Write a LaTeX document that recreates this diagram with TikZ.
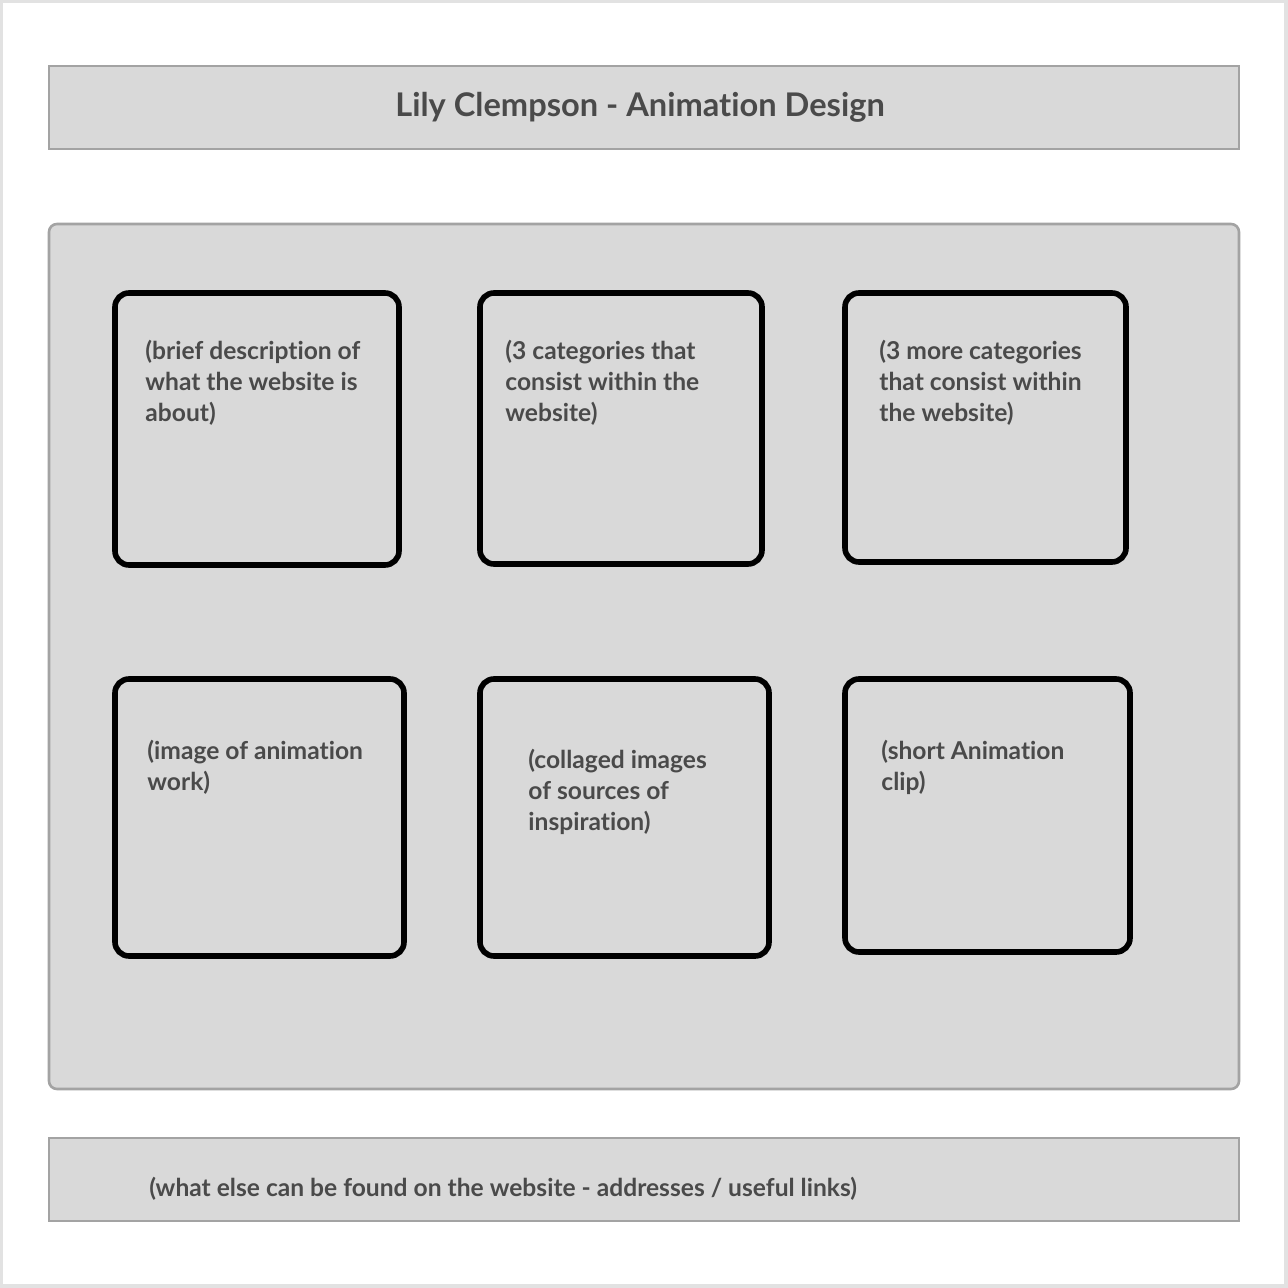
\documentclass[tikz,border=0pt]{standalone}
\usepackage{fontspec}
\setmainfont{Lato}[Ligatures={NoCommon}]
\usepackage{xcolor}
\usepackage{tikz}
\definecolor{page}{HTML}{FFFFFF}
\definecolor{edge}{HTML}{E2E2E2}
\definecolor{panel}{HTML}{D9D9D9}
\definecolor{rim}{HTML}{A3A3A3}
\definecolor{ink}{HTML}{4A4A4A}
\tikzset{
  bar/.style={fill=panel, draw=rim, line width=1.3pt},
  card/.style={draw=black, line width=2.8pt, rounded corners=7pt},
  head/.style={text=ink, font=\fontsize{16.3}{19}\selectfont\bfseries},
  note/.style={text=ink, font=\fontsize{12.3}{15.5}\selectfont\bfseries, align=left, anchor=base west, inner sep=0pt},
}

\begin{document}
\begin{tikzpicture}[x=0.5pt, y=-0.5pt]
  % page
  \fill[edge] (0,0) rectangle (1288,1288);
  \fill[page] (3,3) rectangle (1284,1284);
  \useasboundingbox (0,0) rectangle (1288,1288);

  % title bar
  \draw[bar] (49,66) rectangle (1239,149);
  \node[head, anchor=base] (title) at (640,117) {Lily Clempson - Animation Design};

  % main panel
  \draw[bar, rounded corners=4pt] (49,224) rectangle (1239,1089);

  % top row (notes sit on the baseline of their last line)
  \draw[card] (115,293) rectangle (399,565);
  \draw[card] (480,293) rectangle (762,564);
  \draw[card] (845,293) rectangle (1126,562);
  \node[note] (about) at (145,422) {(brief description of\\what the website is\\about)};
  \node[note] (cats) at (505,422) {(3 categories that\\consist within the\\website)};
  \node[note] (morecats) at (879,422) {(3 more categories\\that consist within\\the website)};

  % bottom row
  \draw[card] (115,679) rectangle (404,956);
  \draw[card] (480,679) rectangle (769,956);
  \draw[card] (845,679) rectangle (1130,952);
  \node[note] (work) at (147,790) {(image of animation\\work)};
  \node[note] (collage) at (528,830) {(collaged images\\of sources of\\inspiration)};
  \node[note] (clip) at (881,790) {(short Animation\\clip)};

  % footer bar
  \draw[bar] (49,1138) rectangle (1239,1221);
  \node[note] (links) at (149,1196) {(what else can be found on the website - addresses / useful links)};
\end{tikzpicture}
\end{document}
